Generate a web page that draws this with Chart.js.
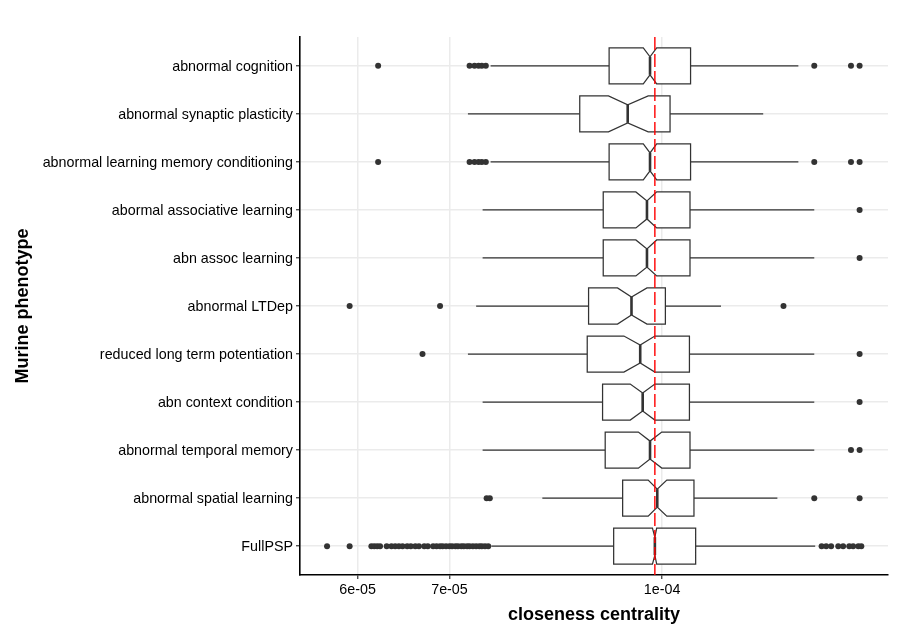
<!DOCTYPE html>
<html>
<head>
<meta charset="utf-8">
<title>Closeness centrality by murine phenotype</title>
<script src="https://cdn.jsdelivr.net/npm/chart.js@4.4.1/dist/chart.umd.min.js"></script>
<style>
    html, body { margin: 0; padding: 0; background: #ffffff; }
    #wrap { width: 908px; height: 638px; }
</style>
</head>
<body>
<div id="wrap"><canvas id="boxChart" width="908" height="638"></canvas></div>
<script>
// --- Data (top row first) ---
const phenotypes = [
    'abnormal cognition',
    'abnormal synaptic plasticity',
    'abnormal learning memory conditioning',
    'abormal associative learning',
    'abn assoc learning',
    'abnormal LTDep',
    'reduced long term potentiation',
    'abn context condition',
    'abnormal temporal memory',
    'abnormal spatial learning',
    'FullPSP'
];

const whiskerLow  = [7.50e-5, 7.22e-5, 7.50e-5, 7.40e-5, 7.40e-5, 7.32e-5, 7.22e-5, 7.40e-5, 7.40e-5, 8.18e-5, 7.51e-5];
const q1          = [9.15e-5, 8.71e-5, 9.15e-5, 9.06e-5, 9.06e-5, 8.84e-5, 8.82e-5, 9.05e-5, 9.09e-5, 9.36e-5, 9.22e-5];
const notchLow    = [9.69e-5, 9.14e-5, 9.69e-5, 9.57e-5, 9.57e-5, 9.28e-5, 9.38e-5, 9.48e-5, 9.61e-5, 9.77e-5, 9.84e-5];
const medians     = [9.80e-5, 9.44e-5, 9.80e-5, 9.75e-5, 9.75e-5, 9.50e-5, 9.64e-5, 9.68e-5, 9.80e-5, 9.92e-5, 9.88e-5];
const notchHigh   = [9.91e-5, 9.77e-5, 9.91e-5, 9.91e-5, 9.91e-5, 9.75e-5, 9.88e-5, 9.88e-5, 9.995e-5, 1.008e-4, 9.91e-5];
const q3          = [1.049e-4, 1.0135e-4, 1.049e-4, 1.048e-4, 1.048e-4, 1.0056e-4, 1.047e-4, 1.047e-4, 1.048e-4, 1.055e-4, 1.058e-4];
const whiskerHigh = [1.257e-4, 1.185e-4, 1.257e-4, 1.291e-4, 1.291e-4, 1.104e-4, 1.291e-4, 1.291e-4, 1.291e-4, 1.2135e-4, 1.293e-4];

const outliers = [
    [6.21e-5, 7.24e-5, 7.30e-5, 7.35e-5, 7.39e-5, 7.44e-5, 1.291e-4, 1.373e-4, 1.393e-4],
    [],
    [6.21e-5, 7.24e-5, 7.30e-5, 7.35e-5, 7.39e-5, 7.44e-5, 1.291e-4, 1.373e-4, 1.393e-4],
    [1.393e-4],
    [1.393e-4],
    [5.92e-5, 6.89e-5, 1.226e-4],
    [6.69e-5, 1.393e-4],
    [1.393e-4],
    [1.373e-4, 1.393e-4],
    [7.45e-5, 7.49e-5, 1.291e-4, 1.393e-4],
    [5.70e-5, 5.92e-5, 6.14e-5, 6.17e-5, 6.20e-5, 6.23e-5, 6.30e-5, 6.35e-5, 6.39e-5, 6.43e-5,
     6.47e-5, 6.52e-5, 6.56e-5, 6.61e-5, 6.65e-5, 6.71e-5, 6.75e-5, 6.81e-5, 6.85e-5, 6.89e-5,
     6.92e-5, 6.96e-5, 7.00e-5, 7.03e-5, 7.07e-5, 7.10e-5, 7.14e-5, 7.17e-5, 7.21e-5, 7.24e-5,
     7.28e-5, 7.32e-5, 7.36e-5, 7.39e-5, 7.43e-5, 7.47e-5,
     1.307e-4, 1.317e-4, 1.328e-4, 1.344e-4, 1.355e-4, 1.369e-4, 1.378e-4, 1.390e-4, 1.397e-4]
];

const referenceLine = 9.88e-5;
const xTickValues = [6e-5, 7e-5, 1e-4];
const xTickLabels = ['6e-05', '7e-05', '1e-04'];
const xMin = 5.447e-5;
const xMax = 1.461e-4;

// --- Styling ---
const BOX_WIDTH = 0.75;   // in category units
const INK = '#333333';
const GRID = '#ebebeb';

Chart.defaults.font.family = "'Liberation Sans', Arial, sans-serif";
Chart.defaults.color = '#000000';

// --- Notched box plugin (drawn under the outlier points) ---
const notchedBoxes = {
    id: 'notchedBoxes',
    beforeDatasetsDraw(chart) {
        const ctx = chart.ctx;
        const xs = chart.scales.x;
        const ys = chart.scales.y;

        ctx.save();
        ctx.strokeStyle = INK;
        ctx.lineJoin = 'miter';

        phenotypes.forEach((name, i) => {
            const yc = ys.getPixelForValue(i);
            const half = Math.abs(ys.getPixelForValue(i + BOX_WIDTH / 2) - yc);
            const top = yc - half;
            const bot = yc + half;
            const inTop = yc - half / 2;
            const inBot = yc + half / 2;

            const pWl = xs.getPixelForValue(whiskerLow[i]);
            const pQ1 = xs.getPixelForValue(q1[i]);
            const pNl = xs.getPixelForValue(notchLow[i]);
            const pMd = xs.getPixelForValue(medians[i]);
            const pNh = xs.getPixelForValue(notchHigh[i]);
            const pQ3 = xs.getPixelForValue(q3[i]);
            const pWh = xs.getPixelForValue(whiskerHigh[i]);

            // whiskers
            ctx.lineWidth = 1.25;
            ctx.beginPath();
            ctx.moveTo(pWl, yc); ctx.lineTo(pQ1, yc);
            ctx.moveTo(pQ3, yc); ctx.lineTo(pWh, yc);
            ctx.stroke();

            // notched box
            ctx.beginPath();
            ctx.moveTo(pQ1, top);
            ctx.lineTo(pNl, top);
            ctx.lineTo(pMd, inTop);
            ctx.lineTo(pNh, top);
            ctx.lineTo(pQ3, top);
            ctx.lineTo(pQ3, bot);
            ctx.lineTo(pNh, bot);
            ctx.lineTo(pMd, inBot);
            ctx.lineTo(pNl, bot);
            ctx.lineTo(pQ1, bot);
            ctx.closePath();
            ctx.fillStyle = '#ffffff';
            ctx.fill();
            ctx.stroke();

            // median
            ctx.lineWidth = 2.6;
            ctx.beginPath();
            ctx.moveTo(pMd, inTop);
            ctx.lineTo(pMd, inBot);
            ctx.stroke();
        });
        ctx.restore();
    },
    afterDatasetsDraw(chart) {
        const ctx = chart.ctx;
        const area = chart.chartArea;
        const px = chart.scales.x.getPixelForValue(referenceLine);
        ctx.save();
        ctx.strokeStyle = '#ff0000';
        ctx.lineWidth = 1.4;
        ctx.setLineDash([13, 4]);
        ctx.beginPath();
        ctx.moveTo(px, area.top);
        ctx.lineTo(px, area.bottom);
        ctx.stroke();
        ctx.restore();
    }
};

// --- Outlier points ---
const outlierPoints = [];
outliers.forEach((row, i) => {
    row.forEach(v => outlierPoints.push({ x: v, y: i }));
});

new Chart(document.getElementById('boxChart').getContext('2d'), {
    type: 'scatter',
    data: {
        datasets: [{
            label: 'outliers',
            data: outlierPoints,
            backgroundColor: INK,
            borderWidth: 0,
            pointRadius: 3,
            pointHoverRadius: 3
        }]
    },
    plugins: [notchedBoxes],
    options: {
        responsive: false,
        animation: false,
        events: [],
        layout: { padding: { top: 37, right: 20, left: 0, bottom: 0 } },
        plugins: {
            legend: { display: false },
            tooltip: { enabled: false }
        },
        scales: {
            x: {
                type: 'logarithmic',
                position: 'bottom',
                min: xMin,
                max: xMax,
                afterBuildTicks: (s) => { s.ticks = xTickValues.map(v => ({ value: v })); },
                afterFit: (s) => { s.height = 63; },
                ticks: {
                    callback: (value, index) => xTickLabels[index],
                    color: '#000000',
                    font: { size: 14.3 },
                    padding: 2,
                    maxRotation: 0,
                    autoSkip: false
                },
                grid: { color: GRID, lineWidth: 1.5, tickLength: 4, tickColor: INK, tickWidth: 1.2 },
                border: { color: '#000000', width: 1.6 },
                title: {
                    display: true,
                    text: 'closeness centrality',
                    color: '#000000',
                    font: { size: 18, weight: 'bold' },
                    padding: { top: 0, bottom: 12 }
                }
            },
            y: {
                type: 'linear',
                reverse: true,
                min: -0.6,
                max: 10.6,
                afterBuildTicks: (s) => { s.ticks = phenotypes.map((_, i) => ({ value: i })); },
                afterFit: (s) => { s.width = 300; },
                ticks: {
                    callback: (value) => phenotypes[value],
                    color: '#000000',
                    font: { size: 14.3 },
                    padding: 3,
                    labelOffset: 1,
                    autoSkip: false
                },
                grid: { color: GRID, lineWidth: 1.5, tickLength: 4, tickColor: INK, tickWidth: 1.2 },
                border: { color: '#000000', width: 1.6 },
                title: {
                    display: true,
                    text: 'Murine phenotype',
                    color: '#000000',
                    font: { size: 18, weight: 'bold' },
                    padding: { top: 12, bottom: 0 }
                }
            }
        }
    }
});
</script>
</body>
</html>
